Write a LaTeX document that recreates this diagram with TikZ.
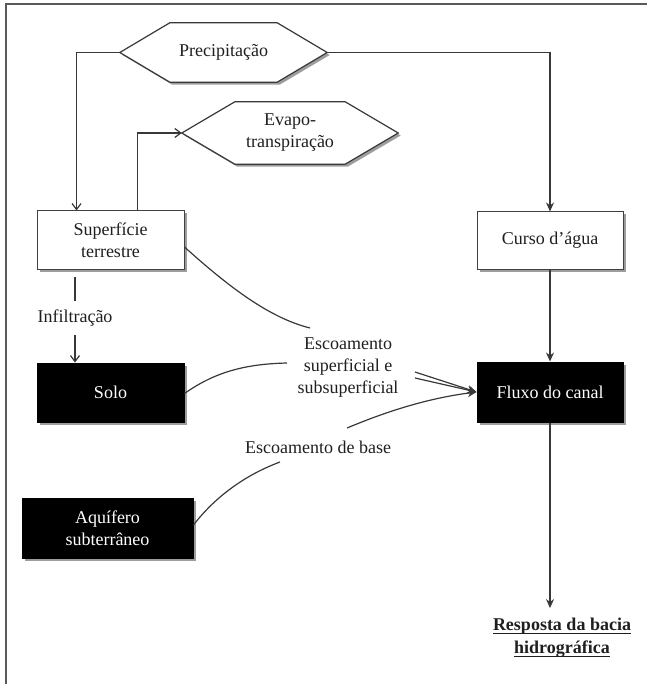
\documentclass[tikz,border=0pt]{standalone}
\usepackage{fontspec}
\setmainfont{Liberation Serif}
\usetikzlibrary{arrows.meta,shadows,backgrounds,calc}

% text with a thick rule under it
\newcommand\thickul[1]{\setbox0\hbox{#1}\leavevmode\rlap{\raisebox{-3.5pt}{\rule{\wd0}{1.1pt}}}\box0}

% hexagonal outline around a text node: #1 node name, #2 horizontal inset of the points
\newcommand\hexframe[2]{%
  \draw[hexline] (#1.west) -- ([xshift=#2]#1.north west) -- ([xshift=-#2]#1.north east)
    -- (#1.east) -- ([xshift=-#2]#1.south east) -- ([xshift=#2]#1.south west) -- cycle;}

\begin{document}
\begin{tikzpicture}[x=1pt,y=-1pt,
  every node/.style={font=\fontsize{18}{22}\selectfont, text=black!88},
  ln/.style={draw=black!78, line width=1.2pt},
  filltip/.style={-{Stealth[length=9pt,width=8pt]}},
  opentip/.style={-{Straight Barb[length=6pt,width=9pt]}},
  shadowed/.style={drop shadow={shadow xshift=2.5pt, shadow yshift=-2.5pt, fill=black!45, opacity=0.85}},
  whitebox/.style={draw=black!75, line width=1pt, fill=white, align=center, inner sep=0pt, shadowed},
  blackbox/.style={draw=black, line width=1pt, fill=black, text=white, align=center, inner sep=0pt, shadowed},
  hexnode/.style={inner sep=0pt, align=center},
  hexline/.style={draw=black!78, line width=1.2pt, fill=white, shadowed},
  label/.style={align=center, inner sep=0pt},
]
\useasboundingbox (0,0) rectangle (647,684);

% frame
\draw[draw=black!65, line width=1.5pt] (6,684) -- (6,4) -- (647,4);

% hexagons (source and loss)
\node[hexnode, minimum width=207pt, minimum height=59pt] (prec) at (223.5,52.5) {Precipitação};
\node[hexnode, minimum width=216pt, minimum height=62pt] (evap) at (290,133) {Evapo-\\transpiração};
\begin{scope}[on background layer]
  \hexframe{prec}{50pt}
  \hexframe{evap}{53pt}
\end{scope}

% storage and flow boxes
\node[whitebox, minimum width=147pt, minimum height=58pt] (sup) at (110.5,240) {Superfície\\terrestre};
\node[blackbox, minimum width=147pt, minimum height=59pt] (solo) at (110.5,392.5) {Solo};
\node[blackbox, minimum width=171pt, minimum height=60pt] (aqu) at (107.5,528) {Aquífero\\subterrâneo};
\node[whitebox, minimum width=146pt, minimum height=57pt] (cur) at (550,240.5) {Curso d’água};
\node[blackbox, minimum width=146pt, minimum height=60pt] (flu) at (550,392) {Fluxo do canal};

% labels
\node[label, text height=12pt, text depth=4pt, inner ysep=9pt] (infil) at (75,318) {Infiltração};
\node[label] (esc) at (348,368) {Escoamento\\superficial e\\subsuperficial};
\node[label] (base) at (318,447) {Escoamento de base};
\node[label, font=\fontsize{18}{23}\selectfont\bfseries] (resp) at (562,638)
  {\thickul{Resposta da bacia}\\\thickul{hidrográfica}};

% free ends of the runoff curves at the labels
\coordinate (escA) at (310,328);
\coordinate (escB) at (287,363);
\coordinate (escC1) at (415,372);
\coordinate (escC2) at (415,378);
\coordinate (baseA) at (280,462);
\coordinate (baseB) at (347,428);

% precipitation paths
\draw[ln, opentip] (prec.west) -| ([xshift=40pt]sup.north west);
\draw[ln, filltip] (prec.east) -| (cur.north);
\draw[ln, opentip] ([xshift=101pt]sup.north west) |- (evap.west);

% infiltration
\draw[ln] ([yshift=-7pt]sup.south -| infil.north) -- (infil.north);
\draw[ln, opentip] (infil.south) -- (solo.north -| infil.south);

% channel
\draw[ln, filltip] (cur.south) -- (flu.north);
\draw[ln, filltip] (flu.south) -- ([yshift=10pt]resp.north -| flu.south);

% surface and subsurface runoff
\draw[ln] ([yshift=-7pt]sup.east) .. controls (230,288) and (270,318) .. (escA);
\draw[ln] ([yshift=-1pt]solo.east) .. controls (215,372) and (245,364) .. (escB);
\draw[ln, filltip] (escC1) -- (flu.west);
\draw[ln, filltip] (escC2) -- (flu.west);

% base flow
\draw[ln] ([yshift=3pt]aqu.east) .. controls (215,497) and (245,475) .. (baseA);
\draw[ln, filltip] (baseB) .. controls (390,410) and (430,398) .. (flu.west);
\end{tikzpicture}
\end{document}
